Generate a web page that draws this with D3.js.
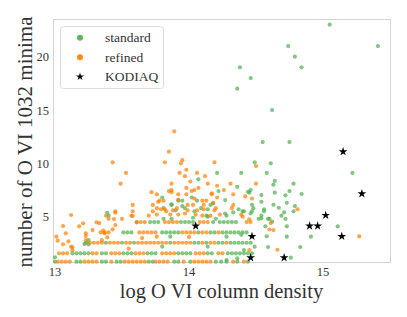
<!DOCTYPE html>
<html>
<head>
<meta charset="utf-8">
<script src="https://cdn.jsdelivr.net/npm/d3@7"></script>
<style>
  body { margin: 0; background: #fff; }
  svg { display: block; }
  text { font-family: "Liberation Serif", "DejaVu Serif", serif; fill: #333; }
</style>
</head>
<body>
<svg id="chart"></svg>
<script>
// y levels of the dense horizontal bands
var rowLevels = [0.78, 1.57, 2.56, 3.53, 4.5];

// x positions (log column density) along each band
var standardRows = [
  [13.00, 13.16, 13.19, 13.35, 13.38, 13.46, 13.49, 13.70, 13.73, 13.89, 13.92, 14.01, 14.20, 14.24, 14.28, 14.36, 14.44],
  [13.13, 13.16, 13.19, 13.22, 13.25, 13.35, 13.38, 13.51, 13.54, 13.57, 13.69, 13.72, 13.75, 13.92, 13.95, 13.98, 14.01, 14.14, 14.17, 14.29, 14.32, 14.35, 14.38, 14.41, 14.44, 14.47],
  [13.23, 13.38, 13.50, 13.59, 13.86, 14.04, 14.07, 14.13, 14.22, 14.25, 14.31, 14.34, 14.37, 14.40, 14.43, 14.46],
  [13.51, 13.54, 13.57, 13.80, 13.83, 13.86, 13.89, 13.92, 14.07, 14.16, 14.19, 14.25, 14.28, 14.31, 14.34, 14.37, 14.40, 14.43],
  [13.71, 13.74, 13.77, 13.94, 13.97, 14.00, 14.03, 14.18, 14.23, 14.26, 14.29, 14.32, 14.35]
];
var refinedRows = [
  [13.02, 13.05, 13.08, 13.11, 13.22, 13.25, 13.28, 13.31, 13.42, 13.52, 13.55, 13.58, 13.61, 13.64, 13.67, 13.75, 13.78, 13.81, 13.84, 13.96, 14.04, 14.07, 14.10, 14.13, 14.16, 14.33, 14.41],
  [13.03, 13.06, 13.09, 13.28, 13.31, 13.42, 13.45, 13.48, 13.60, 13.63, 13.66, 13.80, 13.83, 13.86, 13.89, 14.05, 14.08, 14.11, 14.22, 14.25],
  [13.26, 13.29, 13.32, 13.35, 13.41, 13.44, 13.47, 13.53, 13.56, 13.62, 13.65, 13.68, 13.71, 13.74, 13.77, 13.80, 13.83, 13.89, 13.92, 13.95, 13.98, 14.01, 14.10, 14.16, 14.19, 14.28],
  [13.34, 13.37, 13.40, 13.63, 13.66, 13.69, 13.72, 13.75, 13.95, 13.98, 14.01, 14.04, 14.10, 14.13, 14.22],
  [13.61, 13.64, 13.67, 13.82, 13.85, 13.88, 13.91, 14.08, 14.11, 14.14, 14.43, 14.46]
];

// points off the bands: [log N, number of minima]
var standardScatter = [
  [15.05, 23], [15.41, 21], [14.74, 21], [14.79, 20], [14.38, 19], [14.84, 19], [14.46, 18], [14.36, 17],
  [14.62, 15], [14.55, 12], [14.75, 12],
  [14.49, 10.1], [14.61, 10], [14.39, 9.1], [14.58, 9.1], [15.22, 9.1], [14.21, 9.1], [14.64, 8.35], [14.63, 8.0],
  [14.78, 8.1], [14.36, 7.8], [14.46, 7.5], [14.45, 7.25], [14.75, 7.4], [14.64, 7.25], [14.84, 7.13], [14.54, 7.03],
  [14.72, 7.0], [14.47, 6.12], [14.48, 5.8], [14.63, 6.12], [14.67, 5.84], [14.73, 6.3], [14.79, 6.0], [14.56, 5.7],
  [14.56, 5.5], [14.47, 5.5], [14.46, 5.3], [14.71, 5.4], [14.78, 5.5], [14.33, 5.4], [14.41, 5.5], [14.69, 5.1],
  [14.54, 5.1], [14.52, 4.8], [14.59, 4.8], [14.60, 4.8], [14.72, 4.8], [14.54, 6.4], [14.62, 4.53], [14.57, 4.1],
  [14.73, 4.1], [15.11, 4.1], [14.58, 3.16], [14.73, 3.13], [14.91, 3.13], [14.59, 2.16], [14.83, 2.16], [14.76, 1.16],
  [14.36, 1.1], [14.28, 0.94], [14.41, 1.88], [14.49, 2.19], [14.54, 4.85],
  [13.80, 6.8], [13.87, 6.1], [13.92, 6.5], [13.95, 6.5], [14.02, 6.8], [14.06, 6.5], [14.07, 8.5], [14.22, 7.4],
  [14.16, 6.1], [13.90, 5.6], [13.97, 5.8], [14.09, 5.8], [14.14, 5.7], [13.40, 5.1], [13.81, 4.8], [13.87, 4.8],
  [14.03, 4.9], [14.13, 5.1], [14.20, 4.8], [14.28, 5.1],
  [13.87, 6.16], [13.81, 5.8], [13.95, 6.0], [14.04, 5.5], [14.14, 5.0], [14.27, 5.3], [14.37, 5.7], [14.40, 5.5],
  [14.44, 7.34], [14.18, 6.25], [14.27, 6.56], [13.86, 3.13], [14.28, 3.13], [14.39, 3.3], [13.80, 2.2], [14.14, 2.2],
  [13.00, 1.2], [13.25, 2.41], [13.39, 5.37], [13.61, 4.47], [13.22, 2.44], [13.25, 2.8]
];
var refinedScatter = [
  [13.89, 13], [13.85, 11.1], [13.43, 10.1], [13.82, 10.1], [13.95, 10.3], [13.94, 10], [13.98, 9.4], [13.53, 9.1],
  [13.93, 9.1], [14.06, 9.1], [13.97, 8.8], [14.12, 8.8], [14.19, 10.1], [13.49, 8.1], [13.87, 8.1], [14.01, 8.3],
  [14.14, 8.1], [13.98, 7.7], [14.07, 7.7], [13.87, 7.5], [13.85, 7.4], [14.04, 7.5], [14.02, 7.4], [14.21, 7.9],
  [14.26, 7.5], [14.17, 7.1], [13.76, 7.1], [13.92, 7.1], [13.98, 7.1], [14.04, 6.7], [13.78, 6.5], [13.77, 6.4],
  [13.81, 6.5], [14.21, 6.8], [14.10, 6.5], [14.13, 6.5], [14.18, 6.3], [13.92, 6.6], [13.58, 6.1], [13.73, 6.1],
  [13.99, 6.1], [14.03, 6.1], [14.11, 6.1], [13.45, 5.5], [13.58, 5.5], [13.73, 5.5], [13.76, 5.8], [13.79, 5.7],
  [13.82, 5.7], [13.83, 5.5], [13.88, 5.6], [13.91, 5.8], [13.99, 5.6], [14.06, 5.6], [14.11, 5.7], [14.19, 5.6],
  [14.20, 5.8], [13.57, 5.1], [13.70, 5.1], [13.76, 5.2], [13.86, 5.2], [13.92, 5.2], [14.05, 5.2], [14.10, 5.1],
  [14.16, 5.1], [13.40, 4.8], [13.50, 4.8],
  [14.50, 9.75], [14.31, 8.1], [14.50, 8.1], [14.33, 7.1], [14.42, 6.9], [14.47, 6.7], [14.33, 6.1], [14.81, 5.7],
  [14.40, 5.0], [14.45, 4.75], [13.72, 7.3], [13.87, 7.3], [14.17, 7.2], [13.97, 5.3], [14.23, 5.2], [14.32, 5.8],
  [14.39, 5.2], [14.61, 4.4], [14.63, 3.75], [14.60, 3.8], [15.27, 3.16], [14.66, 1.9], [14.45, 1.88],
  [13.12, 5.16], [13.06, 4.13], [13.08, 3.44], [13.01, 3.13], [13.02, 2.75], [13.18, 4.1], [13.21, 4.38], [13.13, 2.13],
  [13.13, 1.85], [13.23, 3.44], [13.23, 3.19], [13.23, 2.8], [13.28, 3.75], [13.31, 4.47], [13.33, 4.4], [13.35, 2.8],
  [13.37, 3.44], [13.39, 3.07], [13.38, 5.09], [13.36, 3.69], [13.44, 4.78], [13.45, 4.22], [13.43, 3.82], [13.45, 5.37],
  [13.58, 5.07], [13.10, 2.69], [13.06, 2.41], [13.12, 2.19], [13.76, 3.13], [14.00, 3.1], [13.65, 3.0], [13.55, 2.0]
];
var kodiaq = [
  [14.05, 4.13], [14.46, 1.16], [14.47, 3.16], [14.71, 1.16], [14.90, 4.13], [14.96, 4.13],
  [15.02, 5.13], [15.14, 3.16], [15.15, 11.1], [15.29, 7.16]
];

var xTicks = [13, 14, 15];
var yTicks = [5, 10, 15, 20];
var seriesNames = ["standard", "refined", "KODIAQ"];
var seriesColors = ["#4daf4a", "#ff7f00", "#000000"];

var width = 407, height = 317;
var svg = d3.select("#chart").attr("width", width).attr("height", height);

var x = d3.scaleLinear().domain([12.985, 15.5]).range([53, 390]);
var y = d3.scaleLinear().domain([0.66, 23.44]).range([263, 20]);

function flatten(rows) {
  var out = [];
  rows.forEach(function (r, i) {
    r.forEach(function (v) { out.push([v, rowLevels[i]]); });
  });
  return out;
}
var standardAll = flatten(standardRows).concat(standardScatter);
var refinedAll = flatten(refinedRows).concat(refinedScatter);

// frame
svg.append("rect")
  .attr("x", 53.5).attr("y", 19.5)
  .attr("width", 337).attr("height", 243)
  .attr("fill", "none")
  .attr("stroke", "#d4d4d4")
  .attr("stroke-width", 1);

var plot = svg.append("g");

plot.selectAll(".std")
  .data(standardAll)
  .enter().append("circle")
  .attr("class", "std")
  .attr("cx", function (d) { return x(d[0]); })
  .attr("cy", function (d) { return y(d[1]); })
  .attr("r", 2.1)
  .attr("fill", seriesColors[0])
  .attr("fill-opacity", 0.7);

plot.selectAll(".ref")
  .data(refinedAll)
  .enter().append("circle")
  .attr("class", "ref")
  .attr("cx", function (d) { return x(d[0]); })
  .attr("cy", function (d) { return y(d[1]); })
  .attr("r", 2.1)
  .attr("fill", seriesColors[1])
  .attr("fill-opacity", 0.7);

var star = d3.symbol().type(d3.symbolStar).size(24);
plot.selectAll(".kod")
  .data(kodiaq)
  .enter().append("path")
  .attr("class", "kod")
  .attr("d", star)
  .attr("transform", function (d) { return "translate(" + x(d[0]) + "," + y(d[1]) + ")"; })
  .attr("fill", seriesColors[2]);

// tick labels
svg.selectAll(".xt")
  .data(xTicks)
  .enter().append("text")
  .attr("class", "xt")
  .attr("x", function (d) { return x(d); })
  .attr("y", 276)
  .attr("text-anchor", "middle")
  .style("font-size", "12.5px")
  .text(function (d) { return d; });

svg.selectAll(".yt")
  .data(yTicks)
  .enter().append("text")
  .attr("class", "yt")
  .attr("x", 49)
  .attr("y", function (d) { return y(d) + 4.5; })
  .attr("text-anchor", "end")
  .style("font-size", "12.5px")
  .text(function (d) { return d; });

// axis titles
svg.append("text")
  .attr("x", 221.5)
  .attr("y", 298)
  .attr("text-anchor", "middle")
  .style("font-size", "20.5px")
  .text("log O VI column density");

svg.append("text")
  .attr("transform", "translate(32,142) rotate(-90)")
  .attr("text-anchor", "middle")
  .style("font-size", "21px")
  .text("number of O VI 1032 minima");

// legend
var legend = svg.append("g");
legend.append("rect")
  .attr("x", 60.5).attr("y", 26.5)
  .attr("width", 103).attr("height", 62)
  .attr("rx", 3)
  .attr("fill", "#fff")
  .attr("fill-opacity", 0.8)
  .attr("stroke", "#dcdcdc");

var legendRows = [37.7, 57.3, 76.7];
seriesNames.forEach(function (name, i) {
  if (i < 2) {
    legend.append("circle")
      .attr("cx", 80).attr("cy", legendRows[i])
      .attr("r", 3)
      .attr("fill", seriesColors[i])
      .attr("fill-opacity", 0.9);
  } else {
    legend.append("path")
      .attr("d", d3.symbol().type(d3.symbolStar).size(20))
      .attr("transform", "translate(80," + legendRows[i] + ")")
      .attr("fill", seriesColors[i]);
  }
  legend.append("text")
    .attr("x", 105)
    .attr("y", legendRows[i] + 4.5)
    .style("font-size", "13.5px")
    .text(name);
});
</script>
</body>
</html>
